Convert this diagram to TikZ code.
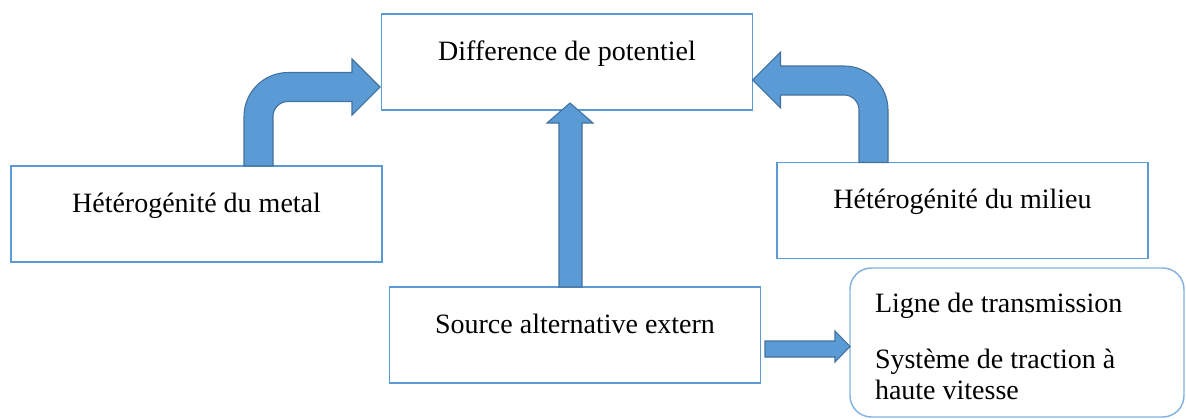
\documentclass[tikz,border=0pt]{standalone}
\usepackage{fontspec}
\setmainfont{Liberation Serif}
\usepackage{tikz}
\usetikzlibrary{calc}
\definecolor{boxblue}{RGB}{91,155,213}
\definecolor{softblue}{RGB}{132,178,224}
\definecolor{arrowfill}{RGB}{91,155,213}
\definecolor{arrowedge}{RGB}{65,113,156}

\begin{document}
\begin{tikzpicture}[
    x=0.75pt, y=-0.75pt,
    font=\fontsize{21}{23.25}\selectfont,
    block/.style={
        draw=boxblue,
        line width=1.1pt,
        minimum width=278.25pt,
        minimum height=72pt,
        inner sep=0pt,
        outer sep=0pt,
        text height=15pt,
        text depth=17.5pt
    },
    roundblock/.style={
        draw=softblue,
        line width=1.1pt,
        rounded corners=16pt,
        minimum width=250.5pt,
        minimum height=111.75pt,
        inner sep=0pt,
        outer sep=0pt,
        text width=213pt,
        align=flush left
    },
    bigarrow/.style={fill=arrowfill, draw=arrowedge, line width=0.8pt}
]
\useasboundingbox (0,0) rectangle (1186,418);

\node[block] (diff) at (567,62) {Difference de potentiel};
\node[block] (metal) at (196.5,214) {Hétérogénité du metal};
\node[block] (milieu) at (962.5,210.5) {Hétérogénité du milieu};
\node[block] (src) at (575,335) {Source alternative extern};
\node[roundblock] (effets) at (1017,342.5)
    {\rule{0pt}{20pt}Ligne de transmission\\[18.75pt]Système de traction à\\haute vitesse};

% bent arrow, metal -> potentiel
\draw[bigarrow] ($(metal.north)+(47.5,0)$) -- ++(0,-49.5)
    arc[start angle=180, end angle=270, radius=44] -- ++(64,0) -- ++(0,-13.5)
    -- ($(diff.west)+(-1.5,25)$) -- ++(-28,28) -- ++(0,-13.5) -- ++(-64,0)
    arc[start angle=270, end angle=180, radius=15] -- ++(0,49.5) -- cycle;

% bent arrow, milieu -> potentiel
\draw[bigarrow] ($(milieu.north)+(-103.5,0)$) -- ++(0,-52.5)
    arc[start angle=0, end angle=-90, radius=15] -- ++(-63.5,0) -- ++(0,13)
    -- ($(diff.east)+(0,18)$) -- ++(28,-28) -- ++(0,14) -- ++(63.5,0)
    arc[start angle=-90, end angle=0, radius=44] -- ++(0,52.5) -- cycle;

% straight arrow, source -> potentiel
\draw[bigarrow] ($(src.north)+(-16,0)$) -- ++(0,-164) -- ++(-12,0)
    -- ($(diff.south)+(3,-7)$) -- ++(23,20) -- ++(-11,0) -- ++(0,164) -- cycle;

% small arrow, source -> effets
\draw[bigarrow] ($(src.east)+(4.5,6)$) -- ++(70,0) -- ++(0,-10)
    -- ($(effets.west)+(0,4)$) -- ++(-15,15.5) -- ++(0,-5) -- ++(-70,0) -- cycle;

\end{tikzpicture}
\end{document}
